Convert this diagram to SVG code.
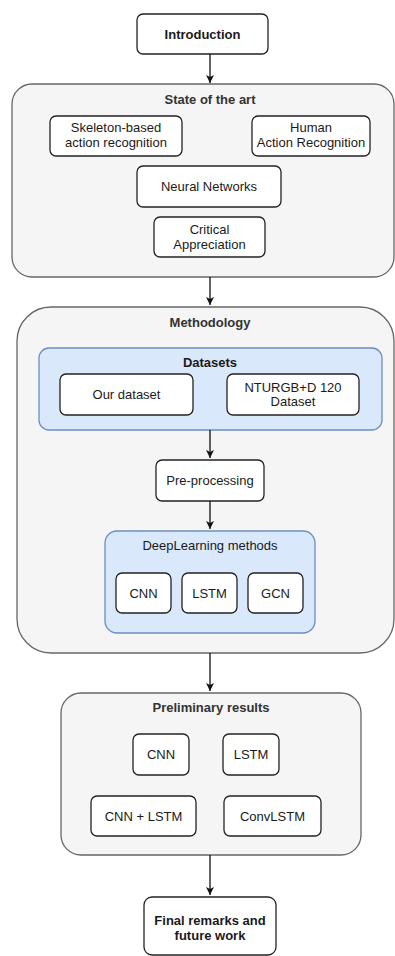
<svg xmlns="http://www.w3.org/2000/svg" width="395" height="956" viewBox="0 0 395 956">
<defs>
<style>
text{font-family:"Liberation Sans",Arial,Helvetica,sans-serif;font-size:13px;fill:#1a1a1a;text-anchor:middle}
.b{font-weight:bold}
.t{fill:#333}
.n{fill:#fff;stroke:#222;stroke-width:1.3}
.c{fill:#f5f5f5;stroke:#666;stroke-width:1.3}
.bl{fill:#dae8fc;stroke:#6c8ebf;stroke-width:1.3}
.e{fill:none;stroke:#111;stroke-width:1.3}
</style>
<marker id="ar" markerWidth="10" markerHeight="10" refX="8" refY="5" orient="auto" markerUnits="userSpaceOnUse">
<path d="M0,1 L8,5 L0,9 L2,5 Z" fill="#111"/>
</marker>
</defs>
<rect width="395" height="956" fill="#fff"/>
<g id="introduction"><rect class="n" x="137" y="14" width="131" height="40" rx="6"/><text class="b" x="202.5" y="39">Introduction</text></g>
<g id="state-of-the-art"><rect class="c" x="12" y="84" width="382" height="193" rx="20"/><text class="b t" x="210" y="104">State of the art</text></g>
<g id="skeleton"><rect class="n" x="50" y="116" width="132" height="40" rx="6"/><text x="116" y="132">Skeleton-based</text><text x="116" y="147">action recognition</text></g>
<g id="human"><rect class="n" x="252" y="116" width="118" height="40" rx="6"/><text x="311" y="132">Human</text><text x="311" y="147">Action Recognition</text></g>
<g id="neural"><rect class="n" x="137" y="166" width="144" height="41" rx="6"/><text x="209" y="191">Neural Networks</text></g>
<g id="critical"><rect class="n" x="154" y="217" width="111" height="40" rx="6"/><text x="209.5" y="234">Critical</text><text x="209.5" y="249">Appreciation</text></g>
<g id="methodology"><rect class="c" x="17" y="307" width="377" height="346" rx="34"/><text class="b t" x="210" y="327">Methodology</text></g>
<g id="datasets"><rect class="bl" x="39" y="348" width="343" height="82" rx="10"/><text class="b" x="210" y="367">Datasets</text></g>
<g id="our-dataset"><rect class="n" x="60" y="374" width="133" height="41" rx="6"/><text x="126.5" y="399">Our dataset</text></g>
<g id="ntu"><rect class="n" x="227" y="374" width="132" height="41" rx="6"/><text x="293" y="392">NTURGB+D 120</text><text x="293" y="406">Dataset</text></g>
<g id="preprocessing"><rect class="n" x="156" y="460" width="108" height="41" rx="6"/><text x="210" y="485">Pre-processing</text></g>
<g id="deeplearning"><rect class="bl" x="105" y="531" width="210" height="102" rx="12"/><text x="210" y="550">DeepLearning methods</text></g>
<g id="dl-cnn"><rect class="n" x="116" y="573" width="55" height="40" rx="6"/><text x="143.5" y="598">CNN</text></g>
<g id="dl-lstm"><rect class="n" x="182" y="573" width="55" height="40" rx="6"/><text x="209.5" y="598">LSTM</text></g>
<g id="dl-gcn"><rect class="n" x="248" y="573" width="55" height="40" rx="6"/><text x="275.5" y="598">GCN</text></g>
<g id="preliminary"><rect class="c" x="61" y="693" width="300" height="162" rx="20"/><text class="b t" x="211" y="712">Preliminary results</text></g>
<g id="pr-cnn"><rect class="n" x="133" y="734" width="56" height="41" rx="6"/><text x="161" y="759">CNN</text></g>
<g id="pr-lstm"><rect class="n" x="223" y="734" width="56" height="41" rx="6"/><text x="251" y="759">LSTM</text></g>
<g id="pr-cnnlstm"><rect class="n" x="91" y="796" width="105" height="40" rx="6"/><text x="143.5" y="821">CNN + LSTM</text></g>
<g id="pr-convlstm"><rect class="n" x="224" y="796" width="97" height="40" rx="6"/><text x="272.5" y="821">ConvLSTM</text></g>
<g id="final"><rect class="n" x="144" y="897" width="132" height="58" rx="8"/><text class="b" x="210" y="925">Final remarks and</text><text class="b" x="210" y="940">future work</text></g>
<g id="edges">
<line class="e" x1="210" y1="54" x2="210" y2="83" marker-end="url(#ar)"/>
<line class="e" x1="210" y1="277" x2="210" y2="305" marker-end="url(#ar)"/>
<line class="e" x1="210" y1="430" x2="210" y2="458" marker-end="url(#ar)"/>
<line class="e" x1="210" y1="501" x2="210" y2="529" marker-end="url(#ar)"/>
<line class="e" x1="210" y1="653" x2="210" y2="691" marker-end="url(#ar)"/>
<line class="e" x1="210" y1="855" x2="210" y2="895" marker-end="url(#ar)"/>
</g>
</svg>
